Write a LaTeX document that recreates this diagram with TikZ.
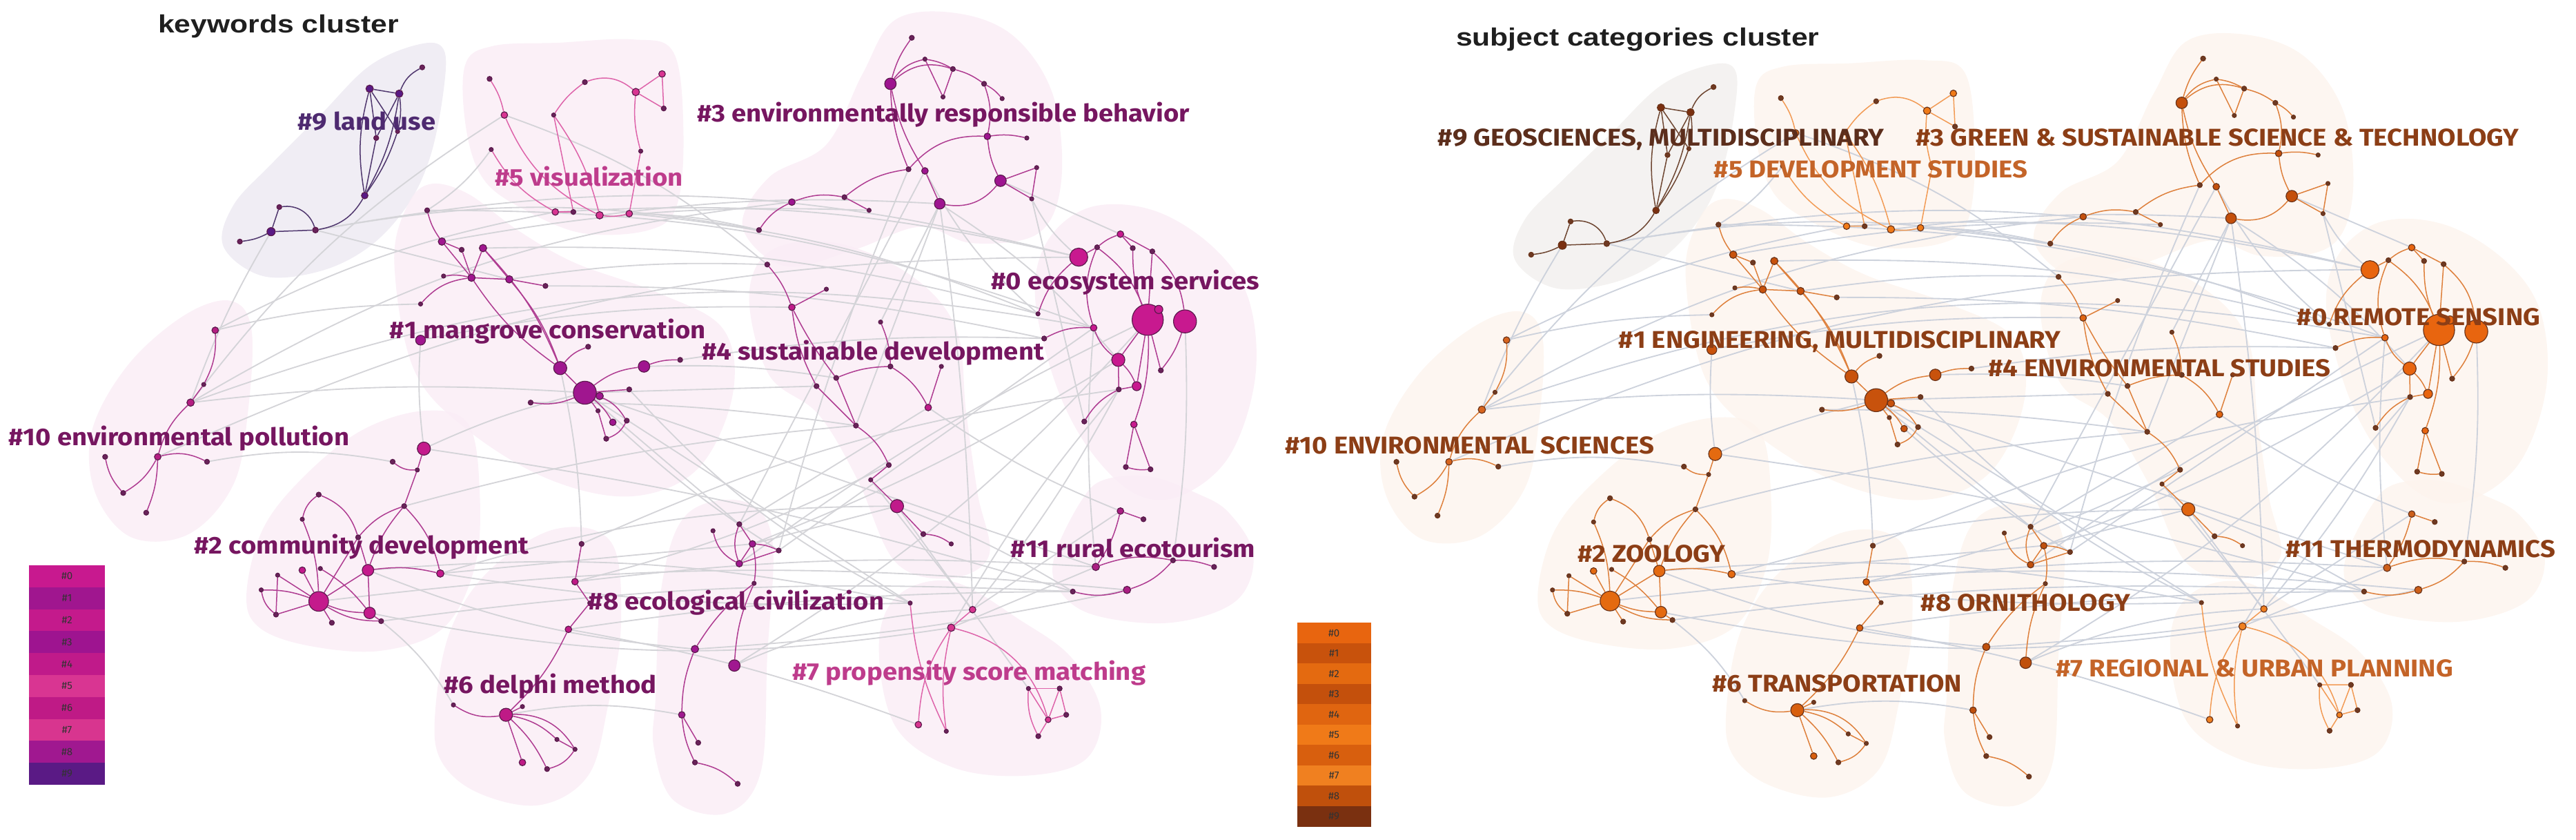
\documentclass[tikz,border=0pt]{standalone}
\usepackage{fontspec}
\newfontfamily\labfont{Fira Sans}[FakeStretch=1.09]
\newfontfamily\legfont{Fira Sans}
\newfontfamily\ttlfont{Liberation Sans}[FakeStretch=1.18]
\pgfdeclarelayer{blobs}
\pgfdeclarelayer{edges}
\pgfsetlayers{blobs,edges,main}
% left palette
\definecolor{Lc0}{RGB}{200,25,143}\definecolor{Lc1}{RGB}{160,22,143}
\definecolor{Lc2}{RGB}{196,26,140}\definecolor{Lc3}{RGB}{158,20,144}
\definecolor{Lc4}{RGB}{192,26,138}\definecolor{Lc5}{RGB}{217,53,146}
\definecolor{Lc6}{RGB}{191,26,134}\definecolor{Lc7}{RGB}{216,53,143}
\definecolor{Lc8}{RGB}{160,24,144}\definecolor{Lc9}{RGB}{90,26,133}
\definecolor{Lc10}{RGB}{180,30,130}\definecolor{Lc11}{RGB}{170,30,130}
\definecolor{Lsm}{RGB}{105,35,90}\definecolor{Lnl}{RGB}{90,25,75}
\definecolor{Led}{RGB}{175,60,145}\definecolor{Led9}{RGB}{80,55,110}
\definecolor{Ledl}{RGB}{222,100,170}\definecolor{Lgr}{RGB}{212,212,216}
\definecolor{Lbl}{RGB}{250,237,246}\definecolor{Lbl9}{RGB}{238,235,243}
\definecolor{Ltx}{RGB}{118,22,96}\definecolor{Ltx9}{RGB}{78,42,112}
\definecolor{Ltxl}{RGB}{190,60,140}
% right palette
\definecolor{Rc0}{RGB}{232,101,15}\definecolor{Rc1}{RGB}{200,82,12}
\definecolor{Rc2}{RGB}{228,106,16}\definecolor{Rc3}{RGB}{196,80,12}
\definecolor{Rc4}{RGB}{224,101,16}\definecolor{Rc5}{RGB}{240,122,24}
\definecolor{Rc6}{RGB}{216,95,14}\definecolor{Rc7}{RGB}{240,128,32}
\definecolor{Rc8}{RGB}{192,80,12}\definecolor{Rc9}{RGB}{122,48,16}
\definecolor{Rc10}{RGB}{215,100,30}\definecolor{Rc11}{RGB}{205,95,25}
\definecolor{Rsm}{RGB}{110,58,35}\definecolor{Rnl}{RGB}{105,50,25}
\definecolor{Red}{RGB}{222,128,60}\definecolor{Red9}{RGB}{110,70,50}
\definecolor{Redl}{RGB}{242,155,85}\definecolor{Rgr}{RGB}{205,210,220}
\definecolor{Rbl}{RGB}{253,244,238}\definecolor{Rbl9}{RGB}{243,241,239}
\definecolor{Rtx}{RGB}{140,62,22}\definecolor{Rtx9}{RGB}{92,46,28}
\definecolor{Rtxl}{RGB}{196,100,40}
\newcommand\knode[4]{\node[dot,#1,minimum size=#2*0.711pt] (\pfx#3) at (#4) {};}
\newcommand\kedge[3][]{\draw[ed] (\pfx#2) to[#1] (\pfx#3);}
\newcommand\kedgeN[3][]{\draw[ed9] (\pfx#2) to[#1] (\pfx#3);}
\newcommand\kedgeL[3][]{\draw[edl] (\pfx#2) to[#1] (\pfx#3);}
\newcommand\kgray[3][]{\draw[gr] (\pfx#2) to[#1] (\pfx#3);}
\newcommand\kblob[2]{\fill[#1] plot[smooth cycle,tension=.6] coordinates {#2};}
\newcommand\drawnet{%
% ---- cluster 9
\knode{ks}{3}{i1}{257,41}\knode{k9}{4.5}{i2}{225,54}\knode{k9}{4.5}{i3}{243,57}
\knode{ks}{3}{i4}{229,84}\knode{ks}{2.5}{i5}{242,80}\knode{k9}{4}{i6}{222,119}
\knode{ks}{3}{i7}{170,126}\knode{k9}{5}{i8}{165,141}\knode{ks}{3.5}{i9}{192,140}
\knode{ks}{3}{i10}{146,147}
% ---- cluster 5
\knode{ks}{3}{v1}{298,48}\knode{k5}{4}{v2}{307,70}\knode{ks}{2.5}{v3}{299,91}
\knode{ks}{3}{v4}{356,50}\knode{ks}{2.5}{v5}{337,70}\knode{k5}{4}{v6}{338,129}
\knode{ks}{3}{v7}{349,129}\knode{k5}{4.5}{v8}{365,131}\knode{k5}{4}{v9}{403,45}
\knode{k5}{4.5}{v10}{387,56}\knode{ks}{3}{v11}{404,66}\knode{ks}{2.5}{v12}{390,92}
\knode{k5}{4}{v13}{383,130}
% ---- cluster 1
\knode{ks}{3}{m1}{260,128}\knode{k1}{4.5}{m2}{269,147}\knode{ks}{3}{m3}{281,152}
\knode{k1}{4.5}{m4}{294,151}\knode{ks}{2.5}{m5}{270,168}\knode{k1}{4.5}{m6}{287,169}
\knode{k1}{4.5}{m7}{310,170}\knode{ks}{3}{m8}{332,174}\knode{ks}{2.5}{m9}{256,185}
\knode{k1}{6}{m10}{256,207}\knode{k1}{8}{m11}{341,224}\knode{ks}{3}{m12}{358,211}
\knode{k1}{14}{m13}{356,239}\knode{k1}{7}{m14}{392,223}\knode{ks}{3}{m15}{414,219}
\knode{ks}{3}{m16}{383,237}\knode{ks}{3}{m17}{323,245}\knode{ks}{2.5}{m18}{364,250}
\knode{k1}{4}{m19}{373,257}\knode{ks}{3}{m20}{381.5,256}\knode{ks}{3}{m21}{369,267}
\knode{k1}{4.5}{m22}{365,241}
% ---- cluster 10
\knode{k10}{4}{p1}{131,201}\knode{ks}{2.5}{p2}{124,234}\knode{k10}{4.5}{p3}{116,245}
\knode{k10}{4}{p4}{96,278}\knode{ks}{3}{p5}{64,278}\knode{ks}{3}{p6}{126,281}
\knode{ks}{3}{p7}{75,300}\knode{ks}{3}{p8}{89,312}
% ---- cluster 2
\knode{k2}{8}{c1}{258,273}\knode{ks}{3}{c2}{239,281}\knode{ks}{2.5}{c3}{254,286}
\knode{ks}{3}{c4}{246,308}\knode{ks}{3}{c5}{194,301}\knode{ks}{2.5}{c6}{184,316}
\knode{ks}{3}{c7}{218,327}\knode{k2}{4}{c8}{184,347}\knode{ks}{2.5}{c9}{195,346}
\knode{k2}{7}{c10}{224,347}\knode{k2}{4.5}{c11}{268,349}\knode{ks}{2.5}{c12}{169,350}
\knode{ks}{2.5}{c13}{159,359}\knode{k2}{12}{c14}{194,366}\knode{ks}{3}{c15}{168,374}
\knode{ks}{3}{c16}{202,379}\knode{k2}{7}{c17}{225,373}\knode{ks}{3}{c18}{232,378}
% ---- cluster 6
\knode{ks}{3}{d1}{354,331}\knode{k6}{4}{d2}{350,354}\knode{ks}{2.5}{d3}{359,367}
\knode{k6}{4}{d4}{346,383}\knode{ks}{2.5}{d5}{276,429}\knode{k6}{8}{d6}{308,435}
\knode{ks}{2.5}{d7}{318,430}\knode{ks}{2.5}{d8}{339,450}\knode{ks}{2.5}{d9}{350,456}
\knode{k6}{4}{d10}{318,464}\knode{ks}{3}{d11}{333,468}
% ---- cluster 8
\knode{ks}{3}{e1}{450,319}\knode{ks}{2.5}{e2}{434,323}\knode{k8}{4}{e3}{458,331}
\knode{ks}{3}{e4}{474,335}\knode{k8}{4}{e5}{450,343}\knode{ks}{2.5}{e6}{459,355}
\knode{k8}{4.5}{e7}{423,395}\knode{k8}{7}{e8}{447,405}\knode{k8}{4}{e9}{415,435}
\knode{ks}{3}{e10}{425,452}\knode{ks}{3}{e11}{423,464}\knode{ks}{3}{e12}{449,477}
% ---- cluster 4
\knode{ks}{3}{s1}{467,161}\knode{k4}{4}{s2}{482,187}\knode{ks}{2.5}{s3}{503,176}
\knode{ks}{2.5}{s4}{536,196}\knode{ks}{3}{s5}{542,223}\knode{ks}{2.5}{s6}{573,223}
\knode{ks}{3}{s7}{509,230}\knode{ks}{3}{s8}{497,235}\knode{k4}{4}{s9}{565,248}
\knode{ks}{3}{s10}{521,259}\knode{ks}{3}{s11}{541,283}\knode{ks}{2.5}{s12}{530,292}
\knode{k4}{8}{s13}{546,308}\knode{ks}{3}{s14}{562,325}\knode{ks}{2.5}{s15}{579,331}
% ---- cluster 3
\knode{ks}{3}{r1}{555,23}\knode{k3}{7}{r2}{542,51}\knode{ks}{2.5}{r3}{563,36}
\knode{ks}{3}{r4}{580,42}\knode{ks}{3}{r5}{599,51}\knode{ks}{2.5}{r6}{610,60}
\knode{ks}{2.5}{r7}{574,59}\knode{k3}{4}{r8}{601,83}\knode{ks}{2.5}{r9}{625,84}
\knode{ks}{3}{r10}{553,103}\knode{k3}{4}{r11}{563,104}\knode{k3}{7}{r12}{609,110}
\knode{ks}{2.5}{r13}{631,102}\knode{ks}{2.5}{r14}{628,121}\knode{k3}{6.5}{r15}{572,124}
\knode{k3}{4}{r16}{482,123}\knode{ks}{3}{r17}{514,120}\knode{ks}{2.5}{r18}{529,128}
\knode{ks}{3}{r19}{462,140}
% ---- cluster 0
\knode{k0}{4}{o1}{682,142.5}\knode{k0}{11}{o2}{656.6,156.5}\knode{ks}{3}{o3}{667.8,150.5}
\knode{ks}{3}{o4}{689.5,151}\knode{ks}{3}{o5}{701.4,153}\knode{k0}{19}{o6}{698.6,194.6}
\knode{k0}{5}{o7}{705.3,188.3}\knode{k0}{14}{o8}{721.3,195.6}\knode{k0}{4}{o9}{665.7,199.5}
\knode{k0}{8}{o10}{680.7,219}\knode{ks}{3}{o11}{706.6,225.4}\knode{k0}{5.5}{o12}{691.9,235}
\knode{ks}{3}{o13}{681,237}\knode{ks}{2.5}{o14}{631.8,191}\knode{ks}{3}{o15}{635.6,206}
\knode{ks}{3}{o16}{660,256.5}\knode{k0}{4}{o17}{690.2,258.3}\knode{ks}{3}{o18}{685.3,284.2}
\knode{ks}{3}{o19}{700.3,285.6}
% ---- cluster 11
\knode{k11}{4}{t1}{682,311}\knode{ks}{3}{t2}{696,316}\knode{k11}{4.5}{t3}{667,345}
\knode{ks}{3}{t4}{714,341}\knode{ks}{3}{t5}{739,345}\knode{ks}{3}{t6}{653,360}
\knode{k11}{4.5}{t7}{686,359}
% ---- cluster 7
\knode{ks}{2.5}{q1}{554,367}\knode{k7}{4}{q2}{592,371}\knode{k7}{4.5}{q3}{579,382}
\knode{k7}{4}{q4}{559,441}\knode{ks}{2.5}{q5}{576,445}\knode{ks}{2.5}{q6}{626,419}
\knode{ks}{3}{q7}{645,419}\knode{ks}{3}{q8}{649,435}\knode{k7}{3.5}{q9}{638,438}
\knode{ks}{3}{q10}{632,448}
\begin{pgfonlayer}{edges}
% ---- grey inter-cluster links
\kgray{i9}{m7}\kgray[bend right=5]{i8}{p3}\kgray[bend left=10]{p3}{v2}
\kgray[bend left=12]{p3}{r16}\kgray[bend left=12]{p4}{o2}\kgray[bend left=8]{p1}{v6}
\kgray[bend left=5]{p3}{m13}\kgray[bend left=8]{v6}{o2}\kgray[bend left=5]{v8}{r15}
\kgray[bend left=8]{v13}{o14}\kgray[bend left=10]{v2}{s1}\kgray[bend left=10]{m1}{o9}
\kgray[bend left=5]{m7}{s1}\kgray[bend left=6]{m8}{o15}\kgray{m13}{s8}
\kgray[bend left=5]{m14}{s7}\kgray[bend right=10]{m16}{q1}\kgray{m13}{e1}
\kgray[bend right=5]{m10}{c1}\kgray[bend left=5]{m11}{d1}\kgray[bend left=5]{c1}{m13}
\kgray[bend left=8]{c11}{s13}\kgray[bend right=10]{c17}{q3}\kgray[bend left=5]{c18}{t6}
\kgray[bend right=8]{c10}{e7}\kgray[bend left=10]{c18}{d5}\kgray{c11}{e3}
\kgray[bend left=5]{d4}{q4}\kgray[bend left=10]{d6}{e9}\kgray[bend left=10]{e8}{q2}
\kgray{e3}{s13}\kgray[bend left=5]{e5}{o6}\kgray{e1}{s9}\kgray{q1}{m13}
\kgray[bend right=5]{q2}{o13}\kgray{q3}{t3}\kgray{q2}{s12}\kgray[bend right=8]{q1}{c10}
\kgray[bend left=3]{r15}{q2}\kgray{r12}{o1}\kgray[bend right=10]{r14}{o2}
\kgray{r15}{s4}\kgray[bend right=10]{r11}{o14}\kgray[bend right=5]{o9}{t3}
\kgray[bend right=5]{o13}{q3}\kgray[bend left=8]{o6}{e8}\kgray[bend right=5]{t6}{s13}
\kgray{t1}{q2}\kgray[bend left=15]{p3}{o9}\kgray[bend left=10]{i9}{r19}
\kgray[bend left=6]{c14}{t7}\kgray[bend left=4]{m17}{s10}\kgray[bend right=6]{d2}{s11}
\kgray[bend left=8]{m4}{o14}\kgray[bend left=6]{m2}{r18}\kgray[bend left=12]{i9}{o2}
\kgray[bend left=6]{v13}{r19}\kgray[bend left=5]{c4}{s10}\kgray[bend right=5]{c11}{q1}
\kgray[bend left=4]{c1}{t6}\kgray{m13}{t3}\kgray[bend right=5]{m19}{e4}
\kgray{r11}{e1}\kgray[bend right=4]{r10}{e4}\kgray[bend left=5]{o10}{e3}
\kgray[bend right=8]{o13}{d1}\kgray{o9}{e4}\kgray[bend left=4]{d4}{t6}
\kgray[bend left=5]{d2}{t3}\kgray[bend left=6]{p1}{m9}\kgray[bend left=10]{p6}{c2}
\kgray[bend left=6]{m10}{s2}\kgray[bend left=10]{v3}{m1}\kgray[bend left=5]{m15}{o15}
\kgray[bend right=6]{s9}{t1}\kgray{s13}{q6}\kgray[bend left=8]{r15}{o10}
\kgray[bend right=4]{e7}{t7}\kgray[bend left=5]{o8}{t4}\kgray{r15}{s10}\kgray{r14}{o16}
% ---- cluster 9 links
\kedgeN[bend right=20]{i1}{i3}\kedgeN{i2}{i3}\kedgeN{i2}{i4}\kedgeN{i3}{i4}
\kedgeN{i2}{i5}\kedgeN[bend left=10]{i3}{i5}\kedgeN[bend right=12]{i2}{i6}
\kedgeN[bend left=10]{i3}{i6}\kedgeN{i4}{i6}\kedgeN[bend left=8]{i5}{i6}
\kedgeN[bend left=25]{i6}{i9}\kedgeN{i9}{i8}\kedgeN[bend left=10]{i8}{i10}
\kedgeN{i7}{i8}\kedgeN[bend left=40]{i7}{i9}
% ---- cluster 5 links
\kedgeL[bend left=10]{v1}{v2}\kedgeL[bend right=20]{v2}{v8}\kedgeL[bend right=15]{v3}{v6}
\kedgeL[bend right=10]{v4}{v5}\kedgeL{v5}{v7}\kedgeL[bend left=10]{v5}{v8}
\kedgeL[bend left=30]{v4}{v10}\kedgeL{v10}{v9}\kedgeL{v10}{v11}\kedgeL{v9}{v11}
\kedgeL[bend right=10]{v10}{v12}\kedgeL{v12}{v13}\kedgeL[bend right=10]{v8}{v13}
\kedgeL{v6}{v7}
% ---- cluster 1 links
\kedge[bend right=10]{m1}{m2}\kedge{m2}{m3}\kedge{m3}{m6}\kedge{m2}{m6}\kedge{m4}{m6}
\kedge{m4}{m7}\kedge{m6}{m7}\kedge[bend left=10]{m5}{m6}\kedge[bend left=10]{m7}{m11}
\kedge[bend right=10]{m6}{m11}\kedge{m8}{m7}\kedge[bend left=20]{m9}{m6}\kedge{m11}{m13}
\kedge[bend right=15]{m12}{m11}\kedge[bend left=15]{m13}{m14}\kedge[bend left=10]{m14}{m15}
\kedge{m13}{m16}\kedge[bend left=15]{m13}{m17}\kedge{m13}{m18}\kedge{m18}{m21}
\kedge[bend left=10]{m13}{m19}\kedge[bend left=20]{m13}{m20}\kedge[bend left=20]{m20}{m21}
\kedge{m13}{m22}\kedge[bend left=10]{m4}{m11}
% ---- cluster 10 links
\kedge[bend left=15]{p1}{p2}\kedge{p2}{p3}\kedge[bend right=15]{p3}{p4}
\kedge[bend left=20]{p4}{p6}\kedge[bend right=15]{p5}{p7}\kedge[bend right=15]{p7}{p4}
\kedge[bend left=10]{p4}{p8}
% ---- cluster 2 links
\kedge{c1}{c3}\kedge[bend right=20]{c2}{c3}\kedge{c3}{c4}\kedge[bend right=15]{c4}{c7}
\kedge[bend right=10]{c4}{c10}\kedge[bend left=15]{c4}{c11}\kedge[bend right=20]{c5}{c6}
\kedge[bend left=25]{c5}{c7}\kedge[bend left=10]{c6}{c14}\kedge{c7}{c14}\kedge{c7}{c10}
\kedge{c10}{c14}\kedge{c10}{c17}\kedge[bend right=10]{c14}{c17}\kedge{c14}{c12}
\kedge[bend right=10]{c14}{c13}\kedge[bend right=20]{c13}{c15}\kedge{c12}{c15}
\kedge{c14}{c15}\kedge{c14}{c16}\kedge{c17}{c18}\kedge{c14}{c8}
\kedge[bend left=10]{c9}{c17}\kedge[bend right=15]{c14}{c18}\kedge[bend left=10]{c10}{c11}
% ---- cluster 6 links
\kedge{d1}{d2}\kedge{d2}{d3}\kedge{d3}{d4}\kedge[bend left=10]{d4}{d6}
\kedge[bend right=20]{d5}{d6}\kedge{d6}{d7}\kedge[bend left=15]{d6}{d8}
\kedge[bend left=30]{d6}{d9}\kedge{d8}{d9}\kedge[bend left=20]{d9}{d11}
\kedge{d6}{d10}\kedge[bend left=10]{d6}{d11}
% ---- cluster 8 links
\kedge{e1}{e3}\kedge[bend right=20]{e1}{e5}\kedge[bend right=25]{e2}{e5}
\kedge[bend left=10]{e3}{e4}\kedge{e3}{e5}\kedge{e4}{e5}\kedge[bend left=10]{e3}{e6}
\kedge[bend right=10]{e6}{e8}\kedge[bend right=10]{e6}{e7}\kedge[bend right=10]{e7}{e9}
\kedge{e9}{e10}\kedge[bend right=10]{e9}{e11}\kedge[bend left=15]{e11}{e12}
% ---- cluster 4 links
\kedge[bend left=10]{s1}{s2}\kedge{s2}{s3}\kedge[bend right=10]{s2}{s8}
\kedge[bend right=5]{s2}{s7}\kedge[bend left=10]{s4}{s5}\kedge[bend right=10]{s5}{s7}
\kedge[bend left=15]{s5}{s9}\kedge{s6}{s9}\kedge{s7}{s10}\kedge{s8}{s10}
\kedge[bend left=15]{s10}{s11}\kedge{s11}{s12}\kedge{s12}{s13}\kedge{s13}{s14}
\kedge[bend left=15]{s14}{s15}
% ---- cluster 3 links
\kedge[bend right=10]{r1}{r2}\kedge[bend left=20]{r2}{r3}\kedge[bend left=10]{r3}{r4}
\kedge[bend left=10]{r4}{r5}\kedge[bend left=10]{r5}{r6}\kedge[bend left=30]{r2}{r4}
\kedge{r3}{r7}\kedge{r4}{r7}\kedge[bend right=10]{r2}{r10}\kedge[bend left=15]{r5}{r8}
\kedge[bend left=10]{r8}{r9}\kedge[bend right=10]{r8}{r12}\kedge{r12}{r13}
\kedge{r12}{r14}\kedge{r13}{r14}\kedge{r11}{r15}\kedge[bend right=30]{r15}{r12}
\kedge[bend left=15]{r19}{r16}\kedge[bend left=15]{r16}{r17}\kedge{r17}{r18}
\kedge[bend left=15]{r17}{r10}\kedge[bend left=25]{r10}{r8}\kedge[bend right=10]{r2}{r11}
% ---- cluster 0 links
\kedge{o2}{o3}\kedge[bend left=10]{o3}{o1}\kedge{o1}{o4}\kedge[bend right=20]{o3}{o9}
\kedge[bend right=15]{o9}{o10}\kedge{o10}{o6}\kedge{o10}{o13}\kedge{o12}{o6}
\kedge{o6}{o11}\kedge[bend left=10]{o8}{o11}\kedge[bend left=20]{o5}{o8}
\kedge[bend right=10]{o4}{o6}\kedge{o5}{o6}\kedge{o6}{o7}\kedge[bend left=15]{o14}{o2}
\kedge[bend left=15]{o15}{o9}\kedge[bend right=15]{o13}{o16}\kedge[bend left=10]{o6}{o17}
\kedge{o17}{o18}\kedge{o17}{o19}\kedge[bend right=10]{o18}{o19}\kedge{o12}{o13}
\kedge[bend left=10]{o10}{o12}\kedge[bend left=15]{o3}{o6}\kedge{o1}{o5}
% ---- cluster 11 links
\kedge{t1}{t2}\kedge[bend left=10]{t1}{t3}\kedge[bend left=15]{t3}{t4}
\kedge[bend left=10]{t4}{t5}\kedge[bend right=15]{t6}{t7}\kedge[bend right=15]{t7}{t4}
% ---- cluster 7 links
\kedgeL{q2}{q3}\kedgeL[bend right=15]{q3}{q4}\kedgeL[bend right=10]{q3}{q5}
\kedgeL[bend right=10]{q1}{q5}\kedgeL[bend left=30]{q3}{q9}\kedgeL{q6}{q7}
\kedgeL{q6}{q9}\kedgeL{q7}{q9}\kedgeL{q7}{q8}\kedgeL{q8}{q9}
\kedgeL[bend right=15]{q6}{q10}\kedgeL{q9}{q10}
\end{pgfonlayer}
\begin{pgfonlayer}{blobs}
\kblob{blob9}{(136,150) (142,125) (165,100) (195,70) (225,40) (255,27) (270,30) (270,55) (262,95) (248,125) (225,150) (195,165) (160,168)}
\kblob{blob}{(283,40) (300,28) (340,26) (385,24) (410,32) (416,80) (412,125) (395,140) (355,142) (320,128) (295,110) (284,80)}
\kblob{blob}{(240,160) (248,125) (262,112) (285,118) (315,140) (350,160) (400,178) (440,200) (446,240) (425,285) (385,302) (335,292) (285,262) (252,225)}
\kblob{blob}{(58,300) (56,262) (78,222) (112,192) (140,183) (153,200) (151,250) (142,295) (115,325) (80,327)}
\kblob{blob}{(150,362) (160,322) (185,290) (220,262) (258,250) (285,258) (292,300) (289,345) (270,382) (232,396) (188,393) (158,382)}
\kblob{blob}{(265,432) (274,384) (298,347) (338,322) (372,330) (378,380) (370,430) (358,472) (328,490) (290,482) (268,462)}
\kblob{blob}{(399,425) (403,355) (418,313) (452,305) (470,328) (467,400) (463,470) (442,495) (410,487) (398,455)}
\kblob{blob}{(456,180) (470,152) (510,148) (555,168) (582,200) (588,250) (595,300) (602,338) (578,352) (545,342) (522,292) (498,252) (468,228)}
\kblob{blob}{(452,138) (468,108) (503,88) (525,45) (545,12) (582,8) (617,22) (641,58) (646,110) (632,142) (592,148) (560,138) (520,152) (478,162)}
\kblob{blob}{(630,180) (638,146) (664,126) (702,128) (738,150) (760,182) (764,230) (748,278) (718,302) (690,300) (662,272) (642,232)}
\kblob{blob}{(642,338) (658,305) (672,292) (700,290) (728,300) (748,312) (763,338) (752,366) (712,379) (665,374) (644,358)}
\kblob{blob}{(535,392) (547,362) (580,354) (622,378) (652,400) (670,432) (661,462) (625,472) (580,467) (545,442)}
\end{pgfonlayer}
}
\begin{document}
\begin{tikzpicture}[x=0.025cm,y=-0.025cm,
  ttl/.style={font={\ttlfont\bfseries\fontsize{10.8}{12}\selectfont},inner sep=0pt,anchor=base west,text=black!88},
  lab/.style={font={\labfont\bfseries\fontsize{10.5}{12}\selectfont},inner sep=0pt,anchor=base west},
  leg/.style={minimum width=33pt,minimum height=9.5pt,inner sep=0pt,outer sep=0pt,
     font={\legfont\fontsize{4.5}{5}\selectfont},text=black!80}]
\useasboundingbox (0,0) rectangle (1568,511);
% ================= left panel
\def\pfx{L}
\begin{scope}[dot/.style={circle,inner sep=0pt,line width=.35pt,draw=Lnl},
  ks/.style={fill=Lsm},k0/.style={fill=Lc0},k1/.style={fill=Lc1},k2/.style={fill=Lc2},
  k3/.style={fill=Lc3},k4/.style={fill=Lc4},k5/.style={fill=Lc5},k6/.style={fill=Lc6},
  k7/.style={fill=Lc7},k8/.style={fill=Lc8},k9/.style={fill=Lc9},k10/.style={fill=Lc10},
  k11/.style={fill=Lc11},
  ed/.style={draw=Led,line width=.45pt},ed9/.style={draw=Led9,line width=.45pt},
  edl/.style={draw=Ledl,line width=.45pt},gr/.style={draw=Lgr,line width=.55pt},
  blob/.style={fill=Lbl,fill opacity=.85},blob9/.style={fill=Lbl9,fill opacity=.9}]
\drawnet
\end{scope}
% ================= right panel
\def\pfx{R}
\begin{scope}[shift={(786,13.5)},yscale=0.9625,
  dot/.style={circle,inner sep=0pt,line width=.35pt,draw=Rnl},
  ks/.style={fill=Rsm},k0/.style={fill=Rc0},k1/.style={fill=Rc1},k2/.style={fill=Rc2},
  k3/.style={fill=Rc3},k4/.style={fill=Rc4},k5/.style={fill=Rc5},k6/.style={fill=Rc6},
  k7/.style={fill=Rc7},k8/.style={fill=Rc8},k9/.style={fill=Rc9},k10/.style={fill=Rc10},
  k11/.style={fill=Rc11},
  ed/.style={draw=Red,line width=.45pt},ed9/.style={draw=Red9,line width=.45pt},
  edl/.style={draw=Redl,line width=.45pt},gr/.style={draw=Rgr,line width=.55pt},
  blob/.style={fill=Rbl,fill opacity=.85},blob9/.style={fill=Rbl9,fill opacity=.9}]
\drawnet
\end{scope}
% ================= titles
\node[ttl] (tL) at (96,20) {keywords cluster};
\node[ttl] (tR) at (886,27.8) {subject categories cluster};
% ================= left labels
\node[lab,text=Ltx9] (lL9) at (181,79) {\#9 land use};
\node[lab,text=Ltxl] (lL5) at (301,113) {\#5 visualization};
\node[lab,text=Ltx] (lL3) at (424,74) {\#3 environmentally responsible behavior};
\node[lab,text=Ltx] (lL0) at (603,176) {\#0 ecosystem services};
\node[lab,text=Ltx] (lL1) at (237,206) {\#1 mangrove conservation};
\node[lab,text=Ltx] (lL4) at (427,219) {\#4 sustainable development};
\node[lab,text=Ltx] (lL10) at (5,271) {\#10 environmental pollution};
\node[lab,text=Ltx] (lL2) at (118,337) {\#2 community development};
\node[lab,text=Ltx] (lL11) at (615,339) {\#11 rural ecotourism};
\node[lab,text=Ltx] (lL8) at (358,371) {\#8 ecological civilization};
\node[lab,text=Ltx] (lL6) at (270,422) {\#6 delphi method};
\node[lab,text=Ltxl] (lL7) at (482,414) {\#7 propensity score matching};
% ================= right labels
\node[lab,text=Rtx9] (lR9) at (875,89) {\#9 GEOSCIENCES, MULTIDISCIPLINARY};
\node[lab,text=Rtxl] (lR5) at (1043,108) {\#5 DEVELOPMENT STUDIES};
\node[lab,text=Rtx] (lR3) at (1166,89) {\#3 GREEN \& SUSTAINABLE SCIENCE \& TECHNOLOGY};
\node[lab,text=Rtx] (lR0) at (1398,198) {\#0 REMOTE SENSING};
\node[lab,text=Rtx] (lR1) at (985,212) {\#1 ENGINEERING, MULTIDISCIPLINARY};
\node[lab,text=Rtx] (lR4) at (1210,229) {\#4 ENVIRONMENTAL STUDIES};
\node[lab,text=Rtx] (lR10) at (782,276) {\#10 ENVIRONMENTAL SCIENCES};
\node[lab,text=Rtx] (lR2) at (960,342) {\#2 ZOOLOGY};
\node[lab,text=Rtx] (lR11) at (1391,339) {\#11 THERMODYNAMICS};
\node[lab,text=Rtx] (lR8) at (1169,372) {\#8 ORNITHOLOGY};
\node[lab,text=Rtx] (lR6) at (1042,421) {\#6 TRANSPORTATION};
\node[lab,text=Rtxl] (lR7) at (1251,412) {\#7 REGIONAL \& URBAN PLANNING};
% ================= legends
\foreach \i in {0,...,9}{
  \node[leg,fill=Lc\i] (lgL\i) at (40.8,{350.7+13.35*\i}) {\#\i};
  \node[leg,fill=Rc\i,minimum width=31.9pt,minimum height=8.85pt] (lgR\i) at (812,{385.2+12.4*\i}) {\#\i};
}
\end{tikzpicture}
\end{document}
